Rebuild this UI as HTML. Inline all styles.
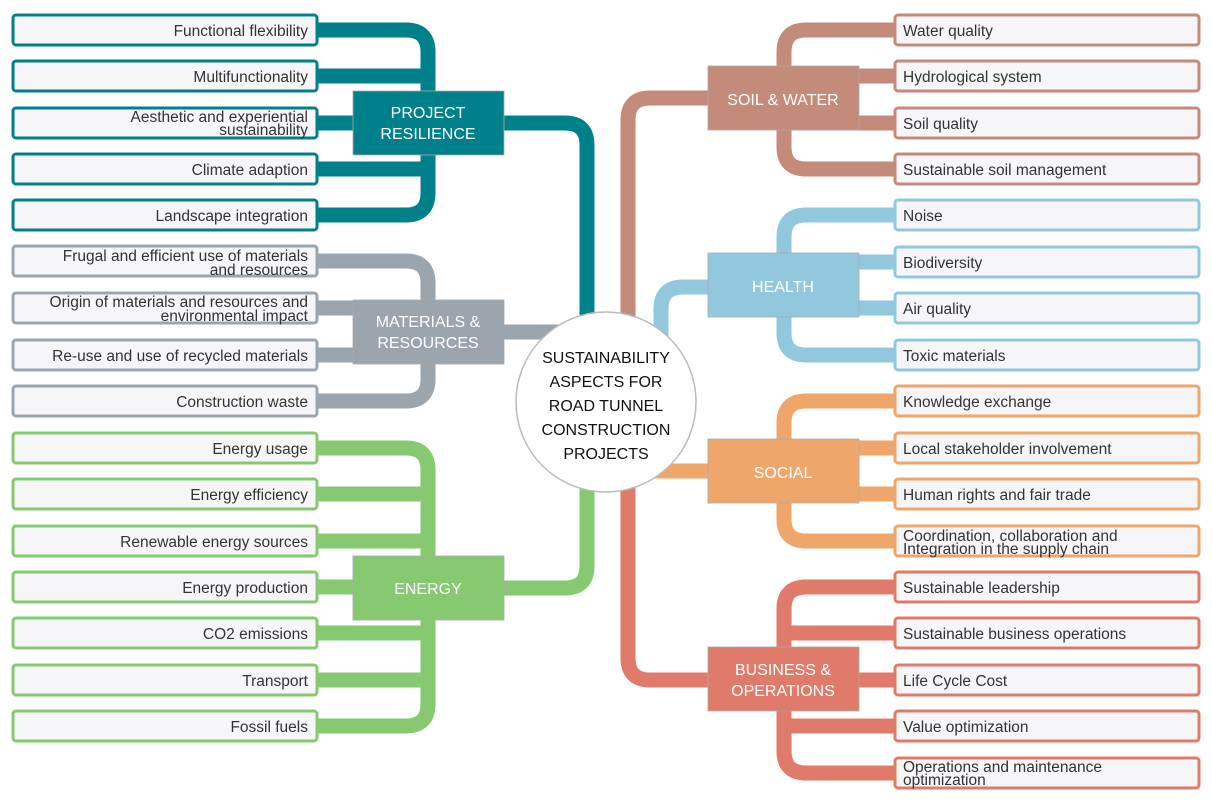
<!DOCTYPE html>
<html><head><meta charset="utf-8"><style>
html,body{margin:0;padding:0;background:#fff;}
svg{display:block;}
text{font-family:"Liberation Sans",sans-serif;}
.lf{font-size:15.5px;fill:#333;}
.ct{font-size:16px;fill:#fff;}
</style></head><body>
<svg width="1212" height="802" viewBox="0 0 1212 802" xmlns="http://www.w3.org/2000/svg">
<g fill="none" stroke-width="15" stroke-linejoin="round">
<g stroke="#00808a">
<path d="M317,30 H406 Q428,30 428,52 V193 Q428,215 406,215 H317"/>
<path d="M317,76 H428 M317,123 H428 M317,169 H428"/>
<path d="M504,123 H565 Q587,123 587,145 V340"/>
</g>
<g stroke="#9aa5ae">
<path d="M317,261 H406 Q428,261 428,283 V379 Q428,401 406,401 H317"/>
<path d="M317,308 H428 M317,355 H428"/>
<path d="M504,332 H560"/>
</g>
<g stroke="#86c970">
<path d="M317,448 H406 Q428,448 428,470 V704 Q428,726 406,726 H317"/>
<path d="M317,494 H428 M317,541 H428 M317,587 H428 M317,633 H428 M317,680 H428"/>
<path d="M504,588 H565 Q587,588 587,566 V470"/>
</g>
<g stroke="#c48a7a">
<path d="M895,30 H806 Q784,30 784,52 V147 Q784,169 806,169 H895"/>
<path d="M895,76 H784 M895,123 H784"/>
<path d="M708,98 H650 Q628,98 628,120 V340"/>
</g>
<g stroke="#92c8dd">
<path d="M895,215 H806 Q784,215 784,237 V333 Q784,355 806,355 H895"/>
<path d="M895,262 H784 M895,308 H784"/>
<path d="M708,287 H683 Q661,287 661,309 V345"/>
</g>
<g stroke="#eea66a">
<path d="M895,401 H806 Q784,401 784,423 V519 Q784,541 806,541 H895"/>
<path d="M895,448 H784 M895,494 H784"/>
<path d="M650,471 H708"/>
</g>
<g stroke="#e07a6a">
<path d="M895,587 H806 Q784,587 784,609 V751 Q784,773 806,773 H895"/>
<path d="M895,633 H784 M895,680 H784 M895,726 H784"/>
<path d="M628,460 V658 Q628,680 650,680 H708"/>
</g>
</g>
<circle cx="606" cy="402" r="90" fill="#fff" stroke="#bbb" stroke-width="1.5"/>
<g text-anchor="middle" style="font-size:16px;fill:#111">
<text x="606" y="363">SUSTAINABILITY</text>
<text x="606" y="387">ASPECTS FOR</text>
<text x="606" y="411">ROAD TUNNEL</text>
<text x="606" y="435">CONSTRUCTION</text>
<text x="606" y="459">PROJECTS</text>
</g>
<g stroke="#aaa" stroke-width="0.8">
<rect x="353" y="91" width="151" height="64" fill="#00808a"/>
<rect x="353" y="300" width="151" height="64" fill="#9aa5ae"/>
<rect x="353" y="556" width="151" height="64" fill="#86c970"/>
<rect x="708" y="66" width="151" height="64" fill="#c48a7a"/>
<rect x="708" y="253" width="151" height="64" fill="#92c8dd"/>
<rect x="708" y="439" width="151" height="64" fill="#eea66a"/>
<rect x="708" y="647" width="151" height="64" fill="#e07a6a"/>
</g>
<g class="ct" text-anchor="middle">
<text x="428" y="118">PROJECT</text><text x="428" y="139">RESILIENCE</text>
<text x="428" y="327">MATERIALS &amp;</text><text x="428" y="348">RESOURCES</text>
<text x="428" y="594">ENERGY</text>
<text x="783" y="105">SOIL &amp; WATER</text>
<text x="783" y="292">HEALTH</text>
<text x="783" y="478">SOCIAL</text>
<text x="783" y="675">BUSINESS &amp;</text><text x="783" y="696">OPERATIONS</text>
</g>
<g fill="#f6f6f9" stroke-width="3">
<g stroke="#00808a">
<rect x="13" y="15" width="304" height="30" rx="3"/><rect x="13" y="61" width="304" height="30" rx="3"/><rect x="13" y="108" width="304" height="30" rx="3"/><rect x="13" y="154" width="304" height="30" rx="3"/><rect x="13" y="200" width="304" height="30" rx="3"/>
</g>
<g stroke="#9aa5ae">
<rect x="13" y="246" width="304" height="30" rx="3"/><rect x="13" y="293" width="304" height="30" rx="3"/><rect x="13" y="340" width="304" height="30" rx="3"/><rect x="13" y="386" width="304" height="30" rx="3"/>
</g>
<g stroke="#86c970">
<rect x="13" y="433" width="304" height="30" rx="3"/><rect x="13" y="479" width="304" height="30" rx="3"/><rect x="13" y="526" width="304" height="30" rx="3"/><rect x="13" y="572" width="304" height="30" rx="3"/><rect x="13" y="618" width="304" height="30" rx="3"/><rect x="13" y="665" width="304" height="30" rx="3"/><rect x="13" y="711" width="304" height="30" rx="3"/>
</g>
<g stroke="#c48a7a">
<rect x="895" y="15" width="304" height="30" rx="3"/><rect x="895" y="61" width="304" height="30" rx="3"/><rect x="895" y="108" width="304" height="30" rx="3"/><rect x="895" y="154" width="304" height="30" rx="3"/>
</g>
<g stroke="#92c8dd">
<rect x="895" y="200" width="304" height="30" rx="3"/><rect x="895" y="247" width="304" height="30" rx="3"/><rect x="895" y="293" width="304" height="30" rx="3"/><rect x="895" y="340" width="304" height="30" rx="3"/>
</g>
<g stroke="#eea66a">
<rect x="895" y="386" width="304" height="30" rx="3"/><rect x="895" y="433" width="304" height="30" rx="3"/><rect x="895" y="479" width="304" height="30" rx="3"/><rect x="895" y="526" width="304" height="30" rx="3"/>
</g>
<g stroke="#e07a6a">
<rect x="895" y="572" width="304" height="30" rx="3"/><rect x="895" y="618" width="304" height="30" rx="3"/><rect x="895" y="665" width="304" height="30" rx="3"/><rect x="895" y="711" width="304" height="30" rx="3"/><rect x="895" y="758" width="304" height="30" rx="3"/>
</g>
</g>
<g class="lf" text-anchor="end">
<text x="308" y="36">Functional flexibility</text>
<text x="308" y="82">Multifunctionality</text>
<text x="308" y="122">Aesthetic and experiential</text><text x="308" y="135">sustainability</text>
<text x="308" y="175">Climate adaption</text>
<text x="308" y="221">Landscape integration</text>
<text x="308" y="261">Frugal and efficient use of materials</text><text x="308" y="275">and resources</text>
<text x="308" y="307">Origin of materials and resources and</text><text x="308" y="321">environmental impact</text>
<text x="308" y="361">Re-use and use of recycled materials</text>
<text x="308" y="407">Construction waste</text>
<text x="308" y="454">Energy usage</text>
<text x="308" y="500">Energy efficiency</text>
<text x="308" y="547">Renewable energy sources</text>
<text x="308" y="593">Energy production</text>
<text x="308" y="639">CO2 emissions</text>
<text x="308" y="686">Transport</text>
<text x="308" y="732">Fossil fuels</text>
</g>
<g class="lf">
<text x="903" y="36">Water quality</text>
<text x="903" y="82">Hydrological system</text>
<text x="903" y="129">Soil quality</text>
<text x="903" y="175">Sustainable soil management</text>
<text x="903" y="221">Noise</text>
<text x="903" y="268">Biodiversity</text>
<text x="903" y="314">Air quality</text>
<text x="903" y="361">Toxic materials</text>
<text x="903" y="407">Knowledge exchange</text>
<text x="903" y="454">Local stakeholder involvement</text>
<text x="903" y="500">Human rights and fair trade</text>
<text x="903" y="541">Coordination, collaboration and</text><text x="903" y="554">Integration in the supply chain</text>
<text x="903" y="593">Sustainable leadership</text>
<text x="903" y="639">Sustainable business operations</text>
<text x="903" y="686">Life Cycle Cost</text>
<text x="903" y="732">Value optimization</text>
<text x="903" y="772">Operations and maintenance</text><text x="903" y="785">optimization</text>
</g>
</svg>
</body></html>
